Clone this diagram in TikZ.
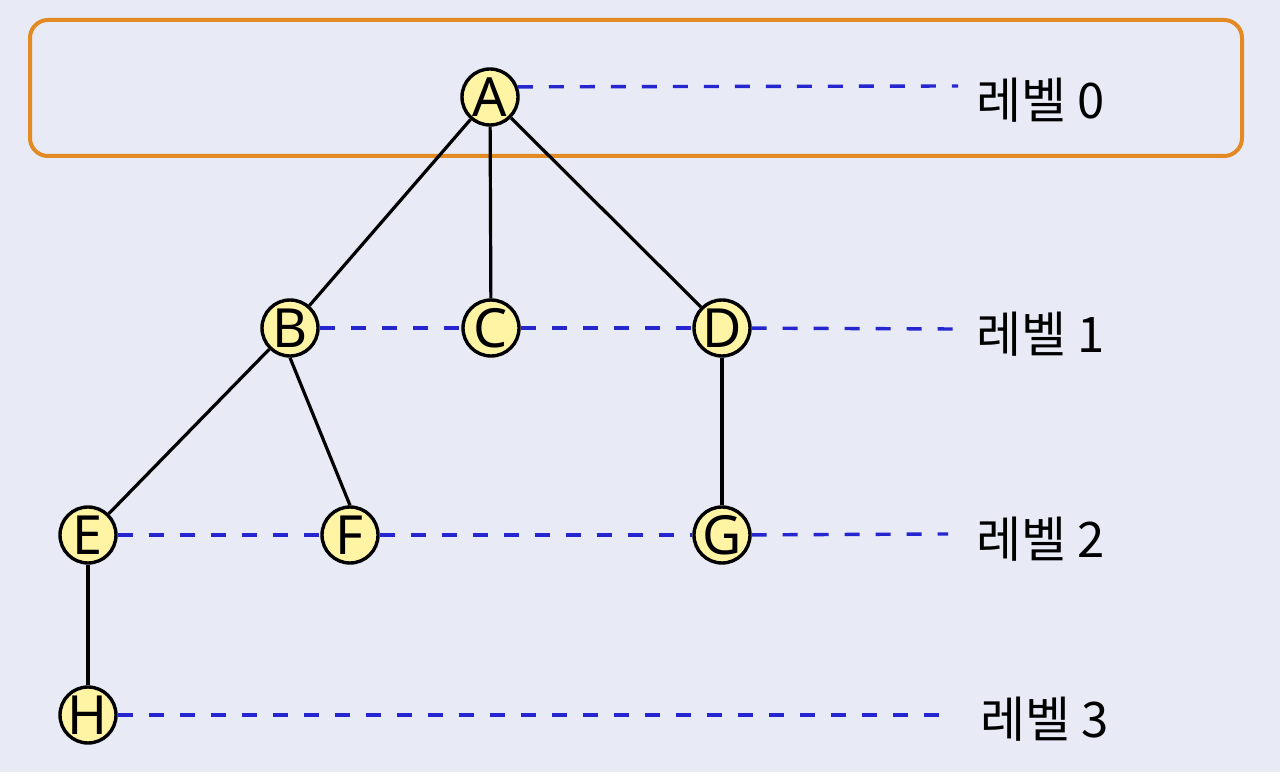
\documentclass[tikz,border=0pt]{standalone}
\usepackage{fontspec}
\setmainfont{Noto Sans}
\newfontfamily\kr{Noto Sans CJK KR}
\definecolor{bg}{HTML}{E8EAF5}
\definecolor{nodefill}{HTML}{FFF4A3}
\definecolor{dashblue}{HTML}{2626D0}
\definecolor{orng}{HTML}{E38A22}
\tikzset{
  vert/.style={circle, draw=black, line width=3.4pt, fill=nodefill, minimum size=56pt, inner sep=0pt, font=\fontsize{54}{54}\selectfont},
  edge/.style={draw=black, line width=3.2pt},
  lvl/.style={draw=dashblue, line width=3.4pt, dash pattern=on 15pt off 16pt},
  lbl/.style={anchor=west, font=\kr\fontsize{49}{49}\selectfont, inner sep=0pt},
}
\begin{document}
\begin{tikzpicture}[x=1pt,y=1pt]
\fill[bg] (0,0) rectangle (1280,772);
\useasboundingbox (0,0) rectangle (1280,772);
\draw[orng, line width=4pt, rounded corners=18pt] (30,616) rectangle (1242,752);
% nodes
\node[vert] (A) at (490,675) {A};
\node[vert] (B) at (290,444) {B};
\node[vert] (C) at (491,444) {C};
\node[vert] (D) at (722,444) {D};
\node[vert] (E) at (88,237) {E};
\node[vert] (F) at (350,237) {F};
\node[vert] (G) at (722,237) {G};
\node[vert] (H) at (88,57) {H};
% level end points and labels
\coordinate (L0) at (958,686);
\coordinate (L1) at (955,443);
\coordinate (L2) at (948,238);
\coordinate (L3) at (948,57);
\node[lbl] (T0) at (976,672) {레벨 0};
\node[lbl] (T1) at (976,438) {레벨 1};
\node[lbl] (T2) at (976,233) {레벨 2};
\node[lbl] (T3) at (980,53) {레벨 3};
% dashed level lines
\draw[lvl] (A.20) -- (L0);
\draw[lvl] (B) -- (C);
\draw[lvl] (C) -- (D);
\draw[lvl] (D) -- (L1);
\draw[lvl] (E) -- (F);
\draw[lvl] (F) -- (G);
\draw[lvl] (G) -- (L2);
\draw[lvl] (H) -- (L3);
% tree edges
\draw[edge] (A) -- (B);
\draw[edge] (A) -- (C);
\draw[edge] (A) -- (D);
\draw[edge] (B) -- (E);
\draw[edge] (B.south) -- (F.north);
\draw[edge] (D) -- (G);
\draw[edge] (E) -- (H);
\end{tikzpicture}
\end{document}
